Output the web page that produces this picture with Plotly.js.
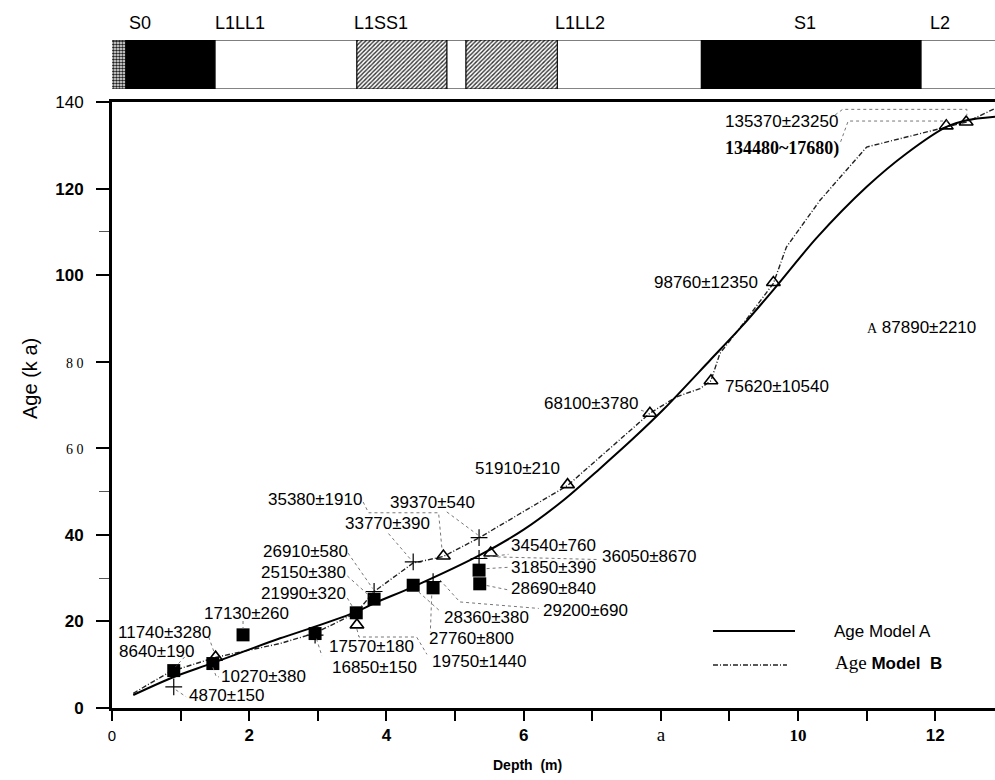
<!DOCTYPE html>
<html>
<head>
<meta charset="utf-8">
<script src="https://cdn.plot.ly/plotly-3.0.1.min.js"></script>
<style>html,body{margin:0;padding:0;background:#fff;}#chart{width:995px;height:780px;}</style>
</head>
<body>
<div id="chart"></div>
<script>
// ---------- DATA ----------
// Stratigraphic units (top strip), depths in m
const unitName  = ['', 'S0', 'L1LL1', 'L1SS1', '', 'L1SS1b', 'L1LL2', 'S1', 'L2'];
const unitTop   = [-0.05, 0.20, 1.50, 3.57, 4.88, 5.16, 6.49, 8.59, 11.79];
const unitBase  = [0.20, 1.50, 3.57, 4.88, 5.16, 6.49, 8.59, 11.79, 13.2];
const unitType  = ['stipple', 'black', 'white', 'hatch', 'white', 'hatch', 'white', 'black', 'white'];
const unitLabels = ['S0', 'L1LL1', 'L1SS1', 'L1LL2', 'S1', 'L2'];
const unitLabelDepth = [0.41, 1.87, 3.92, 6.82, 10.1, 12.07];

// Filled squares
const squareDepth = [0.90, 1.47, 1.91, 2.96, 3.56, 3.82, 4.39, 4.68, 5.35, 5.36];
const squareAge   = [8.64, 10.27, 16.9, 17.2, 21.99, 25.15, 28.36, 27.76, 31.85, 28.69];
const squareLabel = ['8640±190', '10270±380', '17130±260', '17570±180', '21990±320', '25150±380', '28360±380', '27760±800', '31850±390', '28690±840'];

// Crosses
const plusDepth = [0.90, 2.96, 3.82, 4.39, 4.68, 5.35, 5.35];
const plusAge   = [4.87, 16.85, 26.91, 33.77, 29.20, 39.37, 34.54];
const plusLabel = ['4870±150', '16850±150', '26910±580', '33770±390', '29200±690', '39370±540', '34540±760'];

// Open triangles
const triDepth = [1.51, 3.57, 4.83, 5.52, 6.64, 7.84, 8.73, 9.64, 12.16, 12.45];
const triAge   = [11.74, 19.2, 35.1, 35.8, 51.6, 68.1, 75.6, 98.3, 134.48, 135.37];
const triLabel = ['11740±3280', '19750±1440', '35380±1910', '36050±8670', '51910±210', '68100±3780', '75620±10540', '98760±12350', '134480~17680)', '135370±23250'];

// Age models
const modelADepth = [0.31, 0.89, 1.45, 2.45, 2.89, 3.56, 3.82, 4.39, 5.36, 6.0, 6.58, 7.11, 7.6, 8.04, 8.72, 9.2, 9.64, 10.27, 11.0, 11.58, 12.17, 12.46, 12.87];
const modelAAge   = [3.0, 7.1, 10.3, 16.1, 18.4, 22.2, 24.2, 28.0, 35.3, 41.2, 48.0, 55.3, 62.3, 69.0, 80.4, 88.5, 96.6, 108.6, 120.4, 128.1, 134.3, 135.8, 136.6];
const modelBDepth = [0.31, 0.85, 1.51, 2.45, 2.96, 3.56, 3.82, 4.39, 4.83, 5.35, 6.64, 7.11, 7.84, 8.23, 8.57, 8.73, 8.86, 9.2, 9.64, 9.83, 10.32, 11.0, 12.17, 12.46, 12.87];
const modelBAge   = [3.4, 8.4, 11.7, 14.9, 17.3, 22.0, 26.9, 33.5, 35.0, 39.3, 51.4, 58.0, 68.1, 71.9, 73.8, 75.6, 81.9, 88.8, 98.1, 106.5, 117.3, 129.6, 134.3, 135.4, 138.5];

// Axis ticks
const xTickVals = [0, 1, 2, 3, 4, 5, 6, 7, 8, 9, 10, 11, 12];
const xTickLabels = ['0', '', '2', '', '4', '', '6', '', 'a', '', '10', '', '12'];
const yTickVals = [0, 20, 40, 60, 80, 100, 120, 140];
const yTickLabels = ['0', '20', '40', '6 0', '8 0', '100', '120', '140'];
const yMinorVals = [30, 50, 110];

// ---------- LAYOUT HELPERS (positions / styles) ----------
const SERIF = 'Liberation Serif, Times New Roman, serif';
const SANS = 'Liberation Sans, Arial, sans-serif';

function xTickStyle(t) {
  if (t === '') return '';
  if (t === '0') return '<span style="font-size:15px">' + t + '</span>';
  if (t === 'a') return '<span style="font-family:' + SERIF + ';font-size:19px">' + t + '</span>';
  if (t === '10') return '<span style="font-family:' + SERIF + '"><b>' + t + '</b></span>';
  return '<b>' + t + '</b>';
}
function yTickStyle(t) {
  if (t === '6 0' || t === '8 0') return '<span style="font-family:' + SERIF + ';font-size:14px">' + t + '</span>';
  if (t === '140') return t;
  return '<b>' + t + '</b>';
}

// label placement: [depth, age, xanchor]
const labelPlace = {
  '8640±190': [0.07, 13.0, 'left'],
  '10270±380': [1.56, 7.3, 'left'],
  '17130±260': [1.31, 21.9, 'left'],
  '17570±180': [3.13, 14.2, 'left'],
  '21990±320': [2.14, 26.5, 'left'],
  '25150±380': [2.14, 31.3, 'left'],
  '28360±380': [4.81, 20.9, 'left'],
  '27760±800': [4.59, 16.1, 'left'],
  '31850±390': [5.79, 32.4, 'left'],
  '28690±840': [5.79, 27.5, 'left'],
  '4870±150': [1.10, 2.8, 'left'],
  '16850±150': [3.18, 9.4, 'left'],
  '26910±580': [2.17, 36.1, 'left'],
  '33770±390': [3.36, 42.7, 'left'],
  '29200±690': [6.26, 22.6, 'left'],
  '39370±540': [4.03, 47.4, 'left'],
  '34540±760': [5.79, 37.5, 'left'],
  '11740±3280': [0.06, 17.4, 'left'],
  '19750±1440': [4.64, 10.7, 'left'],
  '35380±1910': [2.25, 48.2, 'left'],
  '36050±8670': [7.11, 34.9, 'left'],
  '51910±210': [5.26, 55.4, 'left'],
  '68100±3780': [7.70, 70.4, 'right'],
  '75620±10540': [8.91, 74.3, 'left'],
  '98760±12350': [9.45, 98.2, 'right'],
  '135370±23250': [8.91, 135.4, 'left'],
  '134480~17680)': [8.91, 129.3, 'left']
};

// leader lines (dotted), in data units
const leaders = [
  [[10.54, 137.0], [10.65, 138.3], [12.46, 138.3], [12.46, 136.9]],
  [[10.62, 130.8], [10.73, 135.6], [12.17, 135.6], [12.17, 135.4]],
  [[3.66, 47.6], [3.74, 45.1], [4.76, 45.1], [4.81, 36.6]],
  [[4.88, 45.3], [5.33, 40.0]],
  [[4.03, 40.3], [4.36, 34.2]],
  [[3.44, 35.8], [3.80, 27.6]],
  [[3.43, 30.5], [3.76, 25.8]],
  [[3.43, 25.4], [3.52, 23.0]],
  [[1.91, 20.1], [1.91, 18.4]],
  [[1.41, 16.4], [1.49, 12.8]],
  [[1.06, 11.8], [0.93, 9.6]],
  [[1.47, 9.4], [1.52, 7.2], [1.56, 7.2]],
  [[0.93, 4.2], [1.08, 2.6]],
  [[2.98, 16.0], [3.06, 12.0]],
  [[3.57, 18.2], [3.60, 16.4], [4.44, 16.4], [4.59, 12.4]],
  [[4.47, 26.8], [4.78, 22.4]],
  [[4.66, 26.0], [4.64, 17.6]],
  [[4.78, 29.6], [5.07, 24.5], [6.22, 23.0]],
  [[5.42, 34.8], [5.78, 35.5]],
  [[5.46, 32.2], [5.77, 32.5]],
  [[5.46, 28.3], [5.77, 27.3]],
  [[5.62, 34.9], [7.09, 34.3]],
  [[7.71, 68.8], [7.80, 68.3]]
];

// ---------- TRACES ----------
const traces = [];

function stripTrace(type) {
  const idx = unitType.map((t, i) => t === type ? i : -1).filter(i => i >= 0);
  const m = {line: {color: '#000', width: 1}};
  if (type === 'black') m.color = '#000';
  else if (type === 'white') m.color = '#fff';
  else if (type === 'hatch') { m.color = '#fff'; m.pattern = {shape: '/', fgcolor: '#333', bgcolor: '#fff', size: 3, solidity: 0.45}; }
  else if (type === 'stipple') { m.color = '#fff'; m.pattern = {shape: '.', fgcolor: '#222', bgcolor: '#fff', size: 3, solidity: 0.6}; }
  return {
    type: 'bar', orientation: 'h', xaxis: 'x', yaxis: 'y2',
    base: idx.map(i => unitTop[i]),
    x: idx.map(i => unitBase[i] - unitTop[i]),
    y: idx.map(() => 0.5), width: 1,
    marker: m, cliponaxis: false, hoverinfo: 'skip', showlegend: false
  };
}
['white', 'black', 'hatch', 'stipple'].forEach(t => traces.push(stripTrace(t)));

traces.push({
  x: modelBDepth, y: modelBAge, mode: 'lines', name: 'Age Model B',
  line: {color: '#222', width: 1.4, dash: '5px,2px,1px,2px'}, showlegend: false
});
traces.push({
  x: modelADepth, y: modelAAge, mode: 'lines', name: 'Age Model A',
  line: {color: '#000', width: 2, shape: 'spline', smoothing: 0.8}, showlegend: false
});
traces.push({
  x: plusDepth, y: plusAge, mode: 'markers', text: plusLabel,
  marker: {symbol: 'cross-thin', size: 12, line: {color: '#000', width: 1.2}}, showlegend: false
});
traces.push({
  x: triDepth, y: triAge, mode: 'markers', text: triLabel,
  marker: {symbol: 'triangle-up-open', size: 12, color: '#000', line: {color: '#000', width: 1.6}}, showlegend: false
});
traces.push({
  x: squareDepth, y: squareAge, mode: 'markers', text: squareLabel,
  marker: {symbol: 'square', size: 13, color: '#000'}, showlegend: false
});

// ---------- ANNOTATIONS ----------
const annotations = [];
const allLabels = squareLabel.concat(plusLabel, triLabel);
allLabels.forEach(t => {
  const p = labelPlace[t];
  if (!p) return;
  let txt = t, font = {family: SANS, size: 17, color: '#000'};
  if (t === '134480~17680)') { txt = '<b>' + t + '</b>'; font = {family: SERIF, size: 18, color: '#000'}; }
  annotations.push({x: p[0], y: p[1], xref: 'x', yref: 'y', text: txt, showarrow: false,
    xanchor: p[2], yanchor: 'middle', font: font});
});
annotations.push({x: 10.98, y: 87.9, xref: 'x', yref: 'y', showarrow: false, xanchor: 'left', yanchor: 'middle',
  text: '<span style="font-family:' + SERIF + ';font-size:14px">A</span> 87890±2210', font: {family: SANS, size: 17, color: '#000'}});

unitLabels.forEach((t, i) => {
  annotations.push({x: unitLabelDepth[i], y: 1.0254, xref: 'x', yref: 'paper', text: t, showarrow: false,
    xanchor: 'center', yanchor: 'middle', font: {family: SANS, size: 18, color: '#000'}});
});

annotations.push({x: 0.47, y: -0.0853, xref: 'paper', yref: 'paper', text: '<b>Depth  (m)</b>', showarrow: false,
  xanchor: 'center', yanchor: 'middle', font: {family: SANS, size: 14, color: '#000'}});
annotations.push({x: -0.0929, y: 0.494, xref: 'paper', yref: 'paper', text: 'Age (k a)', showarrow: false, textangle: -90,
  xanchor: 'center', yanchor: 'middle', font: {family: SANS, size: 20, color: '#000'}});

annotations.push({x: 0.8154, y: 0.1138, xref: 'paper', yref: 'paper', text: 'Age Model A', showarrow: false,
  xanchor: 'left', yanchor: 'middle', font: {family: SANS, size: 17, color: '#000'}});
annotations.push({x: 0.8165, y: 0.0674, xref: 'paper', yref: 'paper',
  text: '<span style="font-family:' + SERIF + ';font-size:19px">Age</span> <b>Model  B</b>', showarrow: false,
  xanchor: 'left', yanchor: 'middle', font: {family: SANS, size: 17, color: '#000'}});

// ---------- SHAPES ----------
const shapes = leaders.map(pts => ({
  type: 'path', xref: 'x', yref: 'y',
  path: pts.map((p, i) => (i ? 'L' : 'M') + p[0] + ',' + p[1]).join(' '),
  line: {color: '#777', width: 1, dash: 'dot'}
}));
shapes.push({type: 'line', xref: 'paper', yref: 'paper', x0: 0.6806, x1: 0.7735, y0: 0.1153, y1: 0.1153,
  line: {color: '#000', width: 1.8}});
shapes.push({type: 'line', xref: 'paper', yref: 'paper', x0: 0.6806, x1: 0.7644, y0: 0.0644, y1: 0.0644,
  line: {color: '#222', width: 1.3, dash: '5px,2px,1px,2px'}});

// ---------- LAYOUT ----------
const layout = {
  width: 995, height: 780,
  margin: {l: 112, r: 0, t: 40, b: 72, pad: 0},
  paper_bgcolor: '#fff', plot_bgcolor: '#fff',
  font: {family: SANS, size: 17, color: '#000'},
  showlegend: false,
  barmode: 'overlay',
  xaxis: {
    range: [0, 12.87], showgrid: false, zeroline: false,
    showline: true, linewidth: 3, linecolor: '#000', mirror: true,
    tickmode: 'array', tickvals: xTickVals, ticktext: xTickLabels.map(xTickStyle),
    ticks: 'outside', ticklen: 10, tickwidth: 2, tickcolor: '#000',
    tickfont: {family: SANS, size: 17, color: '#000'}
  },
  yaxis: {
    domain: [0, 0.9072], range: [0, 140], showgrid: false, zeroline: false,
    showline: true, linewidth: 3, linecolor: '#000',
    tickmode: 'array', tickvals: yTickVals, ticktext: yTickLabels.map(yTickStyle),
    ticks: 'outside', ticklen: 13, tickwidth: 2, tickcolor: '#000', ticklabelstandoff: 9,
    minor: {tickmode: 'array', tickvals: yMinorVals, ticks: 'outside', ticklen: 10, tickwidth: 1, tickcolor: '#555'},
    tickfont: {family: SANS, size: 17, color: '#000'}
  },
  yaxis2: {
    domain: [0.9266, 1.0], range: [0, 1], anchor: 'x', visible: false, showgrid: false, zeroline: false, fixedrange: true
  },
  annotations: annotations,
  shapes: shapes
};

Plotly.newPlot('chart', traces, layout, {displayModeBar: false, staticPlot: true});
</script>
</body>
</html>
